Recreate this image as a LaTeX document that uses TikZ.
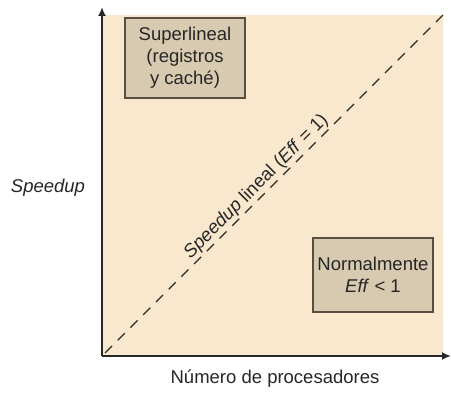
\documentclass[tikz,border=0pt]{standalone}
\usepackage{fontspec}
\setmainfont{Liberation Sans}
\usetikzlibrary{arrows.meta}
\definecolor{fondo}{RGB}{249,232,206}
\definecolor{caja}{RGB}{216,202,176}
\definecolor{borde}{RGB}{88,78,66}
\definecolor{eje}{RGB}{40,40,40}
\begin{document}
\begin{tikzpicture}[x=1pt,y=1pt,
    texto/.style={font=\fontsize{18.5}{22}\selectfont, text=black!85},
    zona/.style={texto, draw=borde, fill=caja, line width=1.3pt, align=center, inner sep=0pt},
    eje/.style={draw=eje, line width=2pt, -{Latex[length=9pt,width=8pt]}}]
        \useasboundingbox (0,0) rectangle (451,394);
        %fondo:
        \fill[fondo] (103,38) rectangle (443,379);

        \coordinate (o) at (102,38);
        \coordinate (ymax) at (102,387);
        \coordinate (xmax) at (451,38);
        \coordinate (d0) at (105,41);
        \coordinate (d1) at (443,379);

        %cajas:
        \foreach \x/\y/\w/\h/\n/\l in {185/336/120/80/sup/{Superlineal\\(registros\\y caché)},373/119/120/74/nor/{Normalmente\\\textit{Eff} < 1}}{
            \node[zona, minimum width=\w, minimum height=\h] (\n) at (\x,\y) {\l};
        }

        \draw[line width=1.1pt, dash pattern=on 10pt off 8pt, draw=eje] (d0) -- node[texto, sloped, above, pos=0.47, inner sep=1.5pt] (lin) {\textit{Speedup} lineal (\textit{Eff} = 1)} (d1);

        \draw[eje] (o) -- (ymax);
        \draw[eje] (o) -- (xmax);

        \node[texto] (ylab) at (48,206) {\textit{Speedup}};
        \node[texto] (xlab) at (275,15) {Número de procesadores};
    \end{tikzpicture}
\end{document}
